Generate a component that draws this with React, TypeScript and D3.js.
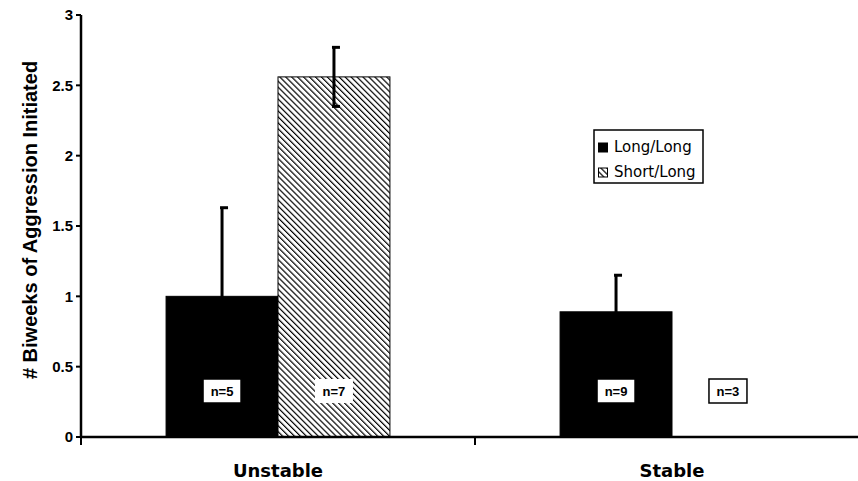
import React, { useEffect, useRef } from 'react';
import * as d3 from 'd3';

const categories = ['Unstable', 'Stable'];
const series = ['Long/Long', 'Short/Long'];
const longLong = [1.0, 0.89];
const shortLong = [2.56, 0];
const longLongErr = [0.63, 0.26];
const shortLongErr = [0.21, 0];
const longLongN = ['n=5', 'n=9'];
const shortLongN = ['n=7', 'n=3'];
const yTicks = [0, 0.5, 1, 1.5, 2, 2.5, 3];

const W = 858;
const H = 481;

const App = () => {
    const ref = useRef<SVGSVGElement>(null);

    useEffect(() => {
        const svg = d3.select(ref.current);
        svg.selectAll('*').remove();

        const left = 81, top = 15, bottom = 437;
        const catStep = 394;

        const x = d3.scaleBand().domain(categories).range([left, left + catStep * categories.length]);
        const xs = d3.scaleBand().domain(series).range([0, x.bandwidth()]).paddingOuter(0.76);
        const y = d3.scaleLinear().domain([0, 3]).range([bottom, top]);

        const defs = svg.append('defs');
        const pat = defs.append('pattern')
            .attr('id', 'hatch')
            .attr('patternUnits', 'userSpaceOnUse')
            .attr('width', 4.2)
            .attr('height', 4.2)
            .attr('patternTransform', 'rotate(-45)');
        pat.append('rect').attr('width', 4.2).attr('height', 4.2).attr('fill', '#fff');
        pat.append('line').attr('x1', 0).attr('y1', 0).attr('x2', 0).attr('y2', 4.2)
            .attr('stroke', '#000').attr('stroke-width', 2.4);

        const fills = ['#000', 'url(#hatch)'];
        const values = [longLong, shortLong];
        const errs = [longLongErr, shortLongErr];
        const labels = [longLongN, shortLongN];

        const g = svg.append('g');

        series.forEach((s, si) => {
            categories.forEach((c, ci) => {
                const v = values[si][ci];
                const bx = x(c)! + xs(s)!;
                if (v > 0) {
                    g.append('rect')
                        .attr('x', bx)
                        .attr('y', y(v))
                        .attr('width', xs.bandwidth())
                        .attr('height', y(0) - y(v))
                        .attr('fill', fills[si])
                        .attr('stroke', '#000')
                        .attr('stroke-width', 1);
                }
            });
        });

        // error bars
        series.forEach((s, si) => {
            categories.forEach((c, ci) => {
                const v = values[si][ci];
                const e = errs[si][ci];
                if (e <= 0) return;
                const cx = x(c)! + xs(s)! + xs.bandwidth() / 2;
                g.append('line')
                    .attr('x1', cx).attr('x2', cx)
                    .attr('y1', y(v - e)).attr('y2', y(v + e))
                    .attr('stroke', '#000').attr('stroke-width', 3);
                [v + e, v - e].forEach(t => {
                    g.append('line')
                        .attr('x1', cx - 2).attr('x2', cx + 6)
                        .attr('y1', y(t)).attr('y2', y(t))
                        .attr('stroke', '#000').attr('stroke-width', 3);
                });
            });
        });

        // n labels
        series.forEach((s, si) => {
            categories.forEach((c, ci) => {
                const cx = x(c)! + xs(s)! + xs.bandwidth() / 2;
                const lg = g.append('g').attr('transform', `translate(${cx},391)`);
                lg.append('rect')
                    .attr('x', -19).attr('y', -12).attr('width', 38).attr('height', 24)
                    .attr('fill', '#fff')
                    .attr('stroke', si === 0 || values[si][ci] === 0 ? '#000' : 'none')
                    .attr('stroke-width', 1.5);
                lg.append('text')
                    .attr('text-anchor', 'middle')
                    .attr('dy', '0.36em')
                    .style('font-family', 'Liberation Sans, Arial, sans-serif')
                    .style('font-weight', '700')
                    .style('font-size', '13px')
                    .text(labels[si][ci]);
            });
        });

        // axes
        const ax = svg.append('g');
        ax.append('line')
            .attr('x1', left).attr('x2', W).attr('y1', bottom).attr('y2', bottom)
            .attr('stroke', '#000').attr('stroke-width', 2.5);
        ax.append('line')
            .attr('x1', left).attr('x2', left).attr('y1', top).attr('y2', bottom)
            .attr('stroke', '#000').attr('stroke-width', 2.5);

        yTicks.forEach(t => {
            ax.append('line')
                .attr('x1', left - 5).attr('x2', left).attr('y1', y(t)).attr('y2', y(t))
                .attr('stroke', '#000').attr('stroke-width', 2);
            ax.append('text')
                .attr('x', 73).attr('y', y(t))
                .attr('dy', '0.35em')
                .attr('text-anchor', 'end')
                .style('font-family', 'Liberation Sans, Arial, sans-serif')
                .style('font-weight', '700')
                .style('font-size', '15px')
                .text(String(t));
        });

        categories.forEach(c => {
            const x0 = x(c)!;
            ax.append('line')
                .attr('x1', x0).attr('x2', x0).attr('y1', bottom).attr('y2', bottom + 8)
                .attr('stroke', '#000').attr('stroke-width', 2);
            ax.append('text')
                .attr('x', x0 + x.bandwidth() / 2)
                .attr('y', 477)
                .attr('text-anchor', 'middle')
                .style('font-family', 'DejaVu Sans, Verdana, sans-serif')
                .style('font-weight', '700')
                .style('font-size', '18px')
                .text(c);
        });

        svg.append('text')
            .attr('transform', 'translate(37,220) rotate(-90)')
            .attr('text-anchor', 'middle')
            .style('font-family', 'Liberation Sans, Arial, sans-serif')
            .style('font-weight', '700')
            .style('font-size', '20px')
            .text('# Biweeks of Aggression Initiated');

        // legend
        const leg = svg.append('g').attr('transform', 'translate(594,130)');
        leg.append('rect')
            .attr('width', 109).attr('height', 53)
            .attr('fill', '#fff').attr('stroke', '#000').attr('stroke-width', 1.5);
        series.forEach((s, i) => {
            const row = leg.append('g').attr('transform', `translate(0,${13 + i * 25})`);
            row.append('rect')
                .attr('x', 4.5).attr('y', 0).attr('width', 9).attr('height', 9)
                .attr('fill', fills[i]).attr('stroke', '#000').attr('stroke-width', 1);
            row.append('text')
                .attr('x', 20).attr('y', 9)
                .style('font-family', 'DejaVu Sans, Verdana, sans-serif')
                .style('font-size', '15px')
                .text(s);
        });
    }, []);

    return (
        <svg ref={ref} width={W} height={H}
            style={{ position: 'absolute', left: 0, top: 0, background: '#fff' }} />
    );
};

export default App;
